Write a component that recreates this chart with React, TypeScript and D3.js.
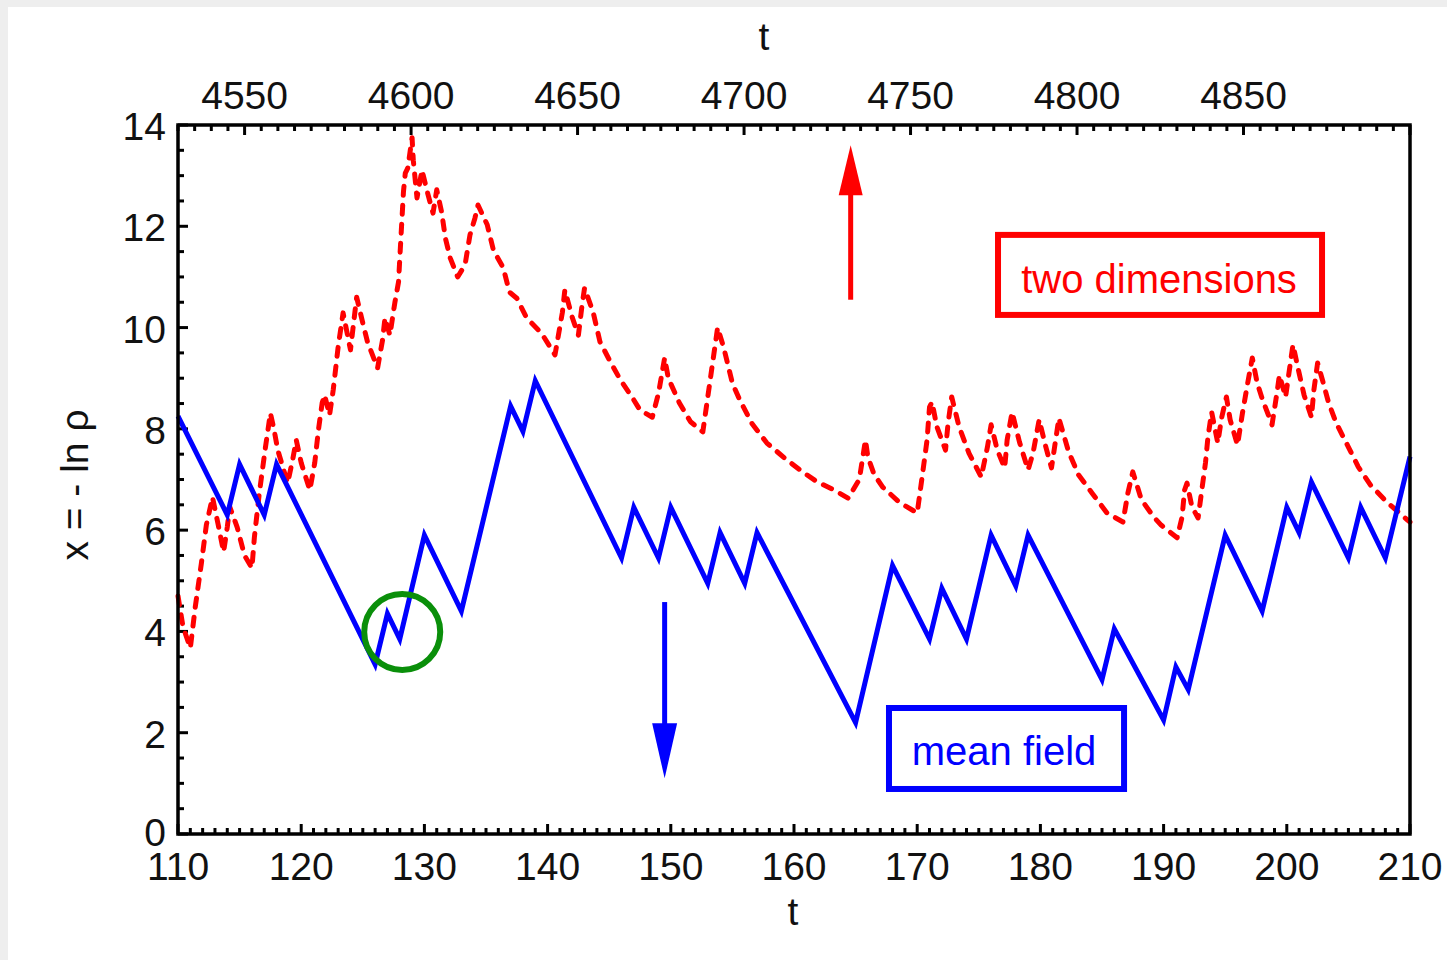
import React from "react";
import * as d3 from "d3";

// mean field trajectory (vertices of the sawtooth)
const blueT = [110, 114, 115, 117, 118, 126, 127, 128, 130, 133, 137, 138, 139, 146, 147, 149, 150, 153, 154, 156, 157, 165, 168, 171, 172, 174, 176, 178, 179, 185, 186, 190, 191, 192, 195, 198, 200, 201, 202, 205, 206, 208, 210];
const blueX = [8.25, 6.3, 7.3, 6.3, 7.3, 3.35, 4.35, 3.85, 5.9, 4.4, 8.45, 7.95, 8.95, 5.45, 6.45, 5.45, 6.45, 4.95, 5.95, 4.95, 5.95, 2.2, 5.3, 3.85, 4.85, 3.85, 5.9, 4.9, 5.9, 3.05, 4.05, 2.25, 3.3, 2.85, 5.9, 4.4, 6.45, 5.95, 6.95, 5.45, 6.45, 5.45, 7.45];

// two dimensional trajectory
const redT = [110, 110.4, 111.0, 111.4, 111.9, 112.3, 112.8, 113.3, 113.7, 114.0, 114.2, 114.8, 115.4, 116.0, 116.2, 116.6, 117.1, 117.5, 117.8, 118.1, 118.5, 118.9, 119.3, 119.6, 120.0, 120.7, 121.1, 121.4, 121.7, 121.9, 122.3, 122.6, 123.0, 123.4, 124.0, 124.5, 125.0, 125.4, 126.2, 126.6, 126.8, 127.2, 127.6, 127.9, 128.1, 128.3, 128.45, 128.65, 129.0, 129.1, 129.4, 129.8, 130.3, 130.7, 131.0, 131.4, 131.7, 132.1, 132.7, 133.3, 133.7, 134.1, 134.35, 135.1, 135.6, 136.4, 136.9, 137.5, 138.3, 139.5, 140.6, 141.2, 141.4, 142.0, 142.5, 142.8, 143.0, 143.7, 144.25, 145.1, 145.9, 146.9, 147.5, 148.5, 149.0, 149.5, 149.8, 150.7, 151.6, 152.6, 153.2, 153.8, 154.3, 155.0, 155.6, 156.6, 157.8, 159.4, 160.7, 161.9, 163.2, 164.4, 165.3, 165.8, 166.0, 166.5, 167.2, 168.6, 170.0, 170.4, 170.8, 171.0, 171.2, 171.6, 172.3, 172.5, 172.8, 173.4, 174.2, 175.2, 175.7, 176.0, 176.5, 177.1, 177.3, 177.7, 178.3, 179.0, 179.4, 179.9, 180.4, 180.9, 181.2, 181.5, 182.3, 183.1, 184.2, 185.4, 186.7, 187.1, 187.5, 188.2, 189.2, 189.8, 191.1, 191.5, 191.7, 191.9, 192.3, 192.8, 193.1, 193.4, 193.6, 193.9, 194.4, 194.7, 195.1, 195.4, 196.0, 196.4, 196.8, 197.2, 197.6, 198.0, 198.8, 199.2, 199.4, 199.9, 200.5, 201.0, 201.4, 202.0, 202.2, 202.5, 202.9, 203.4, 204.0, 205.0, 205.8, 206.8, 208.1, 209.8, 210];
const redX = [4.7, 4.1, 3.67, 4.48, 5.35, 6.1, 6.65, 6.06, 5.57, 6.06, 6.46, 6.06, 5.5, 5.25, 5.86, 6.73, 7.64, 8.31, 7.98, 7.58, 7.25, 6.93, 7.38, 7.78, 7.33, 6.79, 7.33, 7.98, 8.51, 8.67, 8.27, 8.77, 9.62, 10.29, 9.56, 10.6, 10.09, 9.7, 9.2, 9.75, 10.19, 9.85, 10.49, 10.9, 11.8, 12.68, 13.05, 13.15, 13.75, 13.3, 12.56, 13.11, 12.62, 12.26, 12.72, 12.28, 11.77, 11.37, 11.0, 11.24, 11.83, 12.16, 12.42, 12.03, 11.53, 11.18, 10.7, 10.58, 10.19, 9.89, 9.46, 10.3, 10.74, 10.2, 9.85, 10.45, 10.78, 10.3, 9.72, 9.32, 8.97, 8.61, 8.37, 8.23, 8.7, 9.4, 9.0, 8.51, 8.14, 7.94, 8.97, 10.0, 9.6, 8.9, 8.57, 8.1, 7.72, 7.39, 7.15, 6.95, 6.8, 6.63, 7.0, 7.78, 7.44, 7.1, 6.85, 6.54, 6.34, 7.05, 7.78, 8.43, 8.53, 8.04, 7.58, 8.1, 8.63, 8.04, 7.52, 7.05, 7.64, 8.08, 7.58, 7.23, 7.78, 8.33, 7.74, 7.19, 7.52, 8.18, 7.68, 7.23, 7.72, 8.21, 7.54, 7.09, 6.73, 6.34, 6.16, 6.73, 7.15, 6.6, 6.26, 6.1, 5.85, 6.26, 6.79, 6.93, 6.46, 6.24, 6.79, 7.33, 7.84, 8.33, 7.72, 8.21, 8.63, 8.18, 7.68, 8.31, 8.87, 9.4, 8.9, 8.6, 8.08, 8.71, 9.06, 8.63, 9.66, 9.1, 8.67, 8.23, 8.77, 9.3, 8.96, 8.51, 8.12, 7.64, 7.25, 6.89, 6.56, 6.2, 6.16];

const bottomTicks = [110, 120, 130, 140, 150, 160, 170, 180, 190, 200, 210];
const topTicks = [4550, 4600, 4650, 4700, 4750, 4800, 4850];
const leftTicks = [0, 2, 4, 6, 8, 10, 12, 14];

const W = 1447;
const H = 960;
const left = 178, right = 1410, top = 125, bottom = 834;
const font = "'Liberation Sans', Arial, sans-serif";

export default function App() {
  const x = d3.scaleLinear().domain([110, 210]).range([left, right]);
  const xTop = d3.scaleLinear().domain([4530, 4900]).range([left, right]);
  const y = d3.scaleLinear().domain([0, 14]).range([bottom, top]);

  const line = d3.line<[number, number]>().x(d => x(d[0])).y(d => y(d[1]));
  const blue = line(blueT.map((t, i) => [t, blueX[i]]));
  const red = line(redT.map((t, i) => [t, redX[i]]));

  const bottomMinor = d3.range(110, 211, 1);
  const topMinor = d3.range(4530, 4901, 5);
  const leftMinor = d3.range(0, 14.01, 0.5);

  // annotations, in data units
  const redArrow = { t: 164.6, from: 10.55, to: 13.6 };
  const blueArrow = { t: 149.5, from: 4.58, to: 1.1 };
  const circle = { t: 128.2, v: 3.99 };

  return (
    <svg width={W} height={H} style={{ position: "absolute", left: 0, top: 0 }}>
      <rect x={0} y={0} width={W} height={H} fill="#eeeeee" />
      <rect x={8} y={7} width={W - 8} height={H - 7} fill="#ffffff" />

      {/* ticks */}
      <g stroke="#000" strokeWidth={3}>
        {bottomMinor.map(t => (
          <line key={"bm" + t} x1={x(t)} x2={x(t)} y1={bottom} y2={bottom - (t % 10 === 0 ? 10 : 6)} />
        ))}
        {topMinor.map(t => (
          <line key={"tm" + t} x1={xTop(t)} x2={xTop(t)} y1={top} y2={top + (t % 50 === 0 ? 10 : 6)} />
        ))}
        {leftMinor.map(v => (
          <line key={"lm" + v} x1={left} x2={left + (v % 2 === 0 ? 10 : 6)} y1={y(v)} y2={y(v)} />
        ))}
      </g>

      <g fontFamily={font} fontSize={39} fill="#111">
        {bottomTicks.map(t => (
          <text key={"bt" + t} x={x(t)} y={880} textAnchor="middle">{t}</text>
        ))}
        {topTicks.map(t => (
          <text key={"tt" + t} x={xTop(t)} y={109} textAnchor="middle">{t}</text>
        ))}
        {leftTicks.map(v => (
          <text key={"lt" + v} x={166} y={y(v) + (v === 0 ? 12 : 15)} textAnchor="end">{v}</text>
        ))}
        <text x={764} y={50} textAnchor="middle">t</text>
        <text x={793} y={925} textAnchor="middle">t</text>
        <text transform={`translate(88,485) rotate(-90)`} textAnchor="middle">x = - ln ρ</text>
      </g>

      {/* data */}
      <path d={red ?? ""} fill="none" stroke="#ff0000" strokeWidth={5} strokeDasharray="9 10" strokeLinecap="round" strokeLinejoin="round" />
      <path d={blue ?? ""} fill="none" stroke="#0000ff" strokeWidth={5} strokeLinejoin="miter" />

      {/* arrows */}
      <line x1={x(redArrow.t)} x2={x(redArrow.t)} y1={y(redArrow.from)} y2={y(redArrow.to) + 45} stroke="#ff0000" strokeWidth={5} />
      <polygon
        points={`${x(redArrow.t)},${y(redArrow.to)} ${x(redArrow.t) - 12},${y(redArrow.to) + 50} ${x(redArrow.t) + 12},${y(redArrow.to) + 50}`}
        fill="#ff0000"
      />
      <line x1={x(blueArrow.t)} x2={x(blueArrow.t)} y1={y(blueArrow.from)} y2={y(blueArrow.to) - 50} stroke="#0000ff" strokeWidth={5} />
      <polygon
        points={`${x(blueArrow.t)},${y(blueArrow.to)} ${x(blueArrow.t) - 12.5},${y(blueArrow.to) - 55} ${x(blueArrow.t) + 12.5},${y(blueArrow.to) - 55}`}
        fill="#0000ff"
      />

      <circle cx={x(circle.t)} cy={y(circle.v)} r={38} fill="none" stroke="#0a8f0a" strokeWidth={6} />

      {/* legend boxes */}
      <rect x={x(176.56)} y={y(11.83)} width={x(202.86) - x(176.56)} height={y(10.25) - y(11.83)} fill="none" stroke="#ff0000" strokeWidth={6} />
      <text x={x(189.63)} y={y(10.68)} textAnchor="middle" fontFamily={font} fontSize={40} fill="#ff0000">two dimensions</text>
      <rect x={x(167.71)} y={y(2.488)} width={x(186.79) - x(167.71)} height={y(0.889) - y(2.488)} fill="none" stroke="#0000ff" strokeWidth={6} />
      <text x={x(177.05)} y={y(1.362)} textAnchor="middle" fontFamily={font} fontSize={40} fill="#0000ff">mean field</text>

      {/* frame */}
      <rect x={left} y={top} width={right - left} height={bottom - top} fill="none" stroke="#000" strokeWidth={3.5} />
    </svg>
  );
}
